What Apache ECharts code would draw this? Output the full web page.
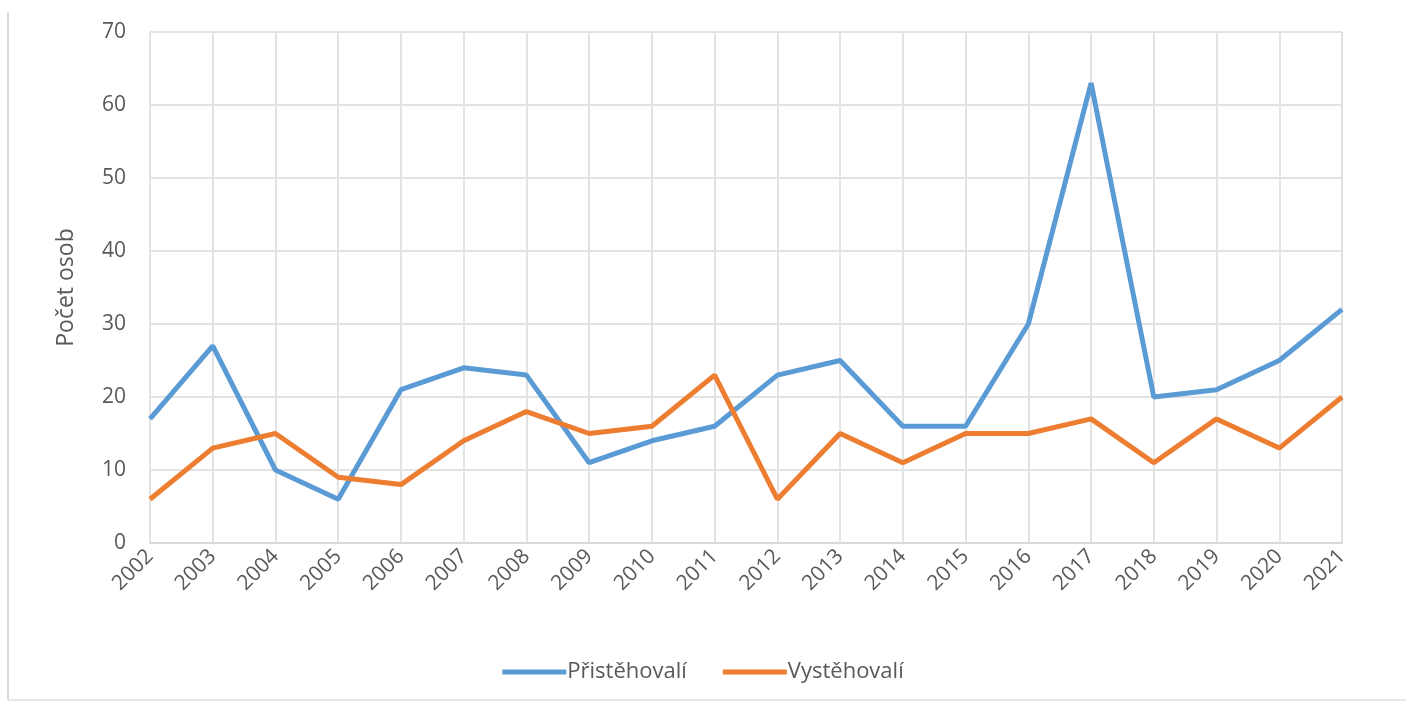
<!DOCTYPE html>
<html><head><meta charset="utf-8">
<script src="https://cdn.jsdelivr.net/npm/echarts@6/dist/echarts.min.js"></script>
<style>html,body{margin:0;padding:0;background:#fff}#c{width:1406px;height:704px}</style>
</head><body><div id="c"></div>
<script>
const years = ['2002','2003','2004','2005','2006','2007','2008','2009','2010','2011','2012','2013','2014','2015','2016','2017','2018','2019','2020','2021'];
const pristehovali = [17,27,10,6,21,24,23,11,14,16,23,25,16,16,30,63,20,21,25,32];
const vystehovali = [6,13,15,9,8,14,18,15,16,23,6,15,11,15,15,17,11,17,13,20];
const yTicks = [0,10,20,30,40,50,60,70];

const chart = echarts.init(document.getElementById('c'));
const font = '"Open Sans", "Noto Sans", sans-serif';
chart.setOption({
  animation:false,
  textStyle:{fontFamily:font},
  graphic:[
    {type:'line',shape:{x1:8,y1:12,x2:8,y2:700},style:{stroke:'#d9d9d9',lineWidth:2}},
    {type:'line',shape:{x1:8,y1:700,x2:1406,y2:700},style:{stroke:'#e6e6e6',lineWidth:2}}
  ],
  grid:{left:150,right:64,top:32,bottom:161},
  legend:{
    bottom:16,left:'center',itemWidth:64,itemHeight:5,itemGap:36,
    icon:'rect',
    textStyle:{fontSize:22,color:'#595959',fontFamily:font,padding:[0,0,0,-4]},
    data:['Přistěhovalí','Vystěhovalí']
  },
  xAxis:{
    type:'category',data:years,boundaryGap:false,
    axisLine:{lineStyle:{color:'#d9d9d9',width:2}},
    axisTick:{show:false},
    splitLine:{show:true,lineStyle:{color:'#e3e3e3',width:2}},
    axisLabel:{rotate:45,fontSize:21,color:'#595959',margin:10,fontFamily:font}
  },
  yAxis:{
    type:'value',min:yTicks[0],max:yTicks[yTicks.length-1],interval:10,
    name:'Počet osob',nameLocation:'middle',nameGap:72,
    nameTextStyle:{fontSize:23,color:'#595959',fontFamily:font},
    axisLine:{show:false},axisTick:{show:false},
    splitLine:{lineStyle:{color:'#e3e3e3',width:2}},
    axisLabel:{fontSize:21,color:'#595959',margin:24,fontFamily:font}
  },
  series:[
    {name:'Přistěhovalí',type:'line',data:pristehovali,showSymbol:false,
     lineStyle:{color:'#5b9bd5',width:5},itemStyle:{color:'#5b9bd5'}},
    {name:'Vystěhovalí',type:'line',data:vystehovali,showSymbol:false,
     lineStyle:{color:'#ed7d31',width:5},itemStyle:{color:'#ed7d31'}}
  ]
});
</script></body></html>
